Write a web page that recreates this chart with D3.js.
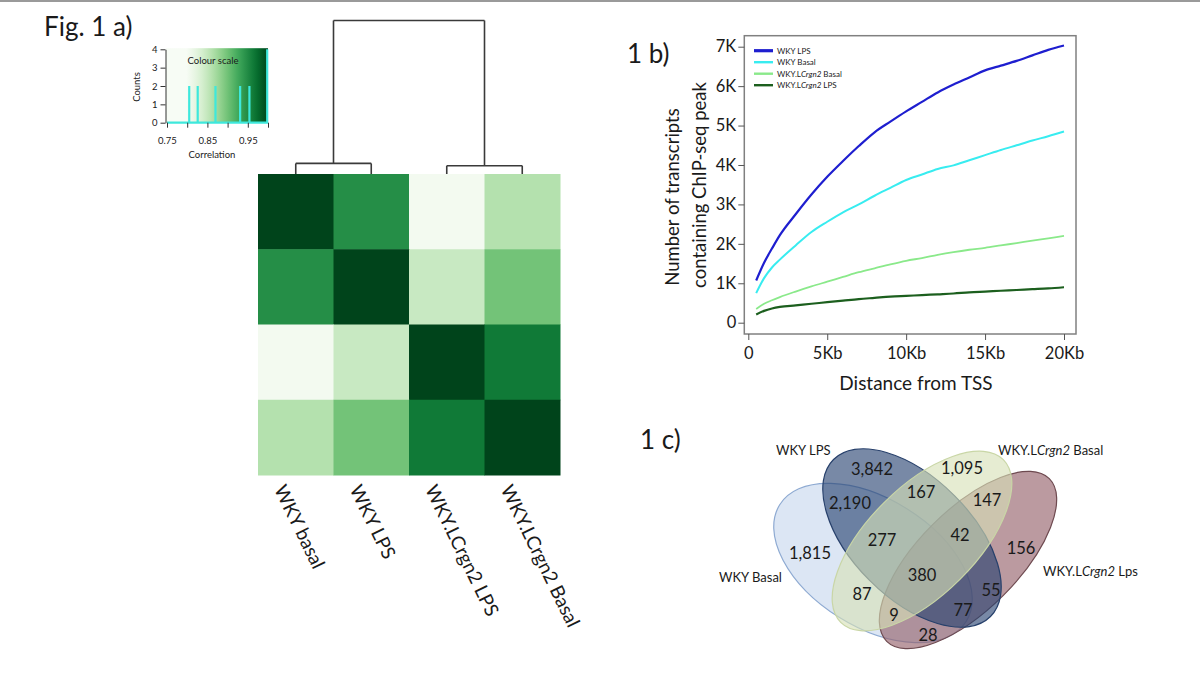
<!DOCTYPE html>
<html><head><meta charset="utf-8">
<script src="https://cdn.jsdelivr.net/npm/d3@7"></script>
<style>
body{margin:0;background:#fff}
svg{display:block}
text{font-family:Lato,"Open Sans",sans-serif;fill:#1a1a1a}
</style>
</head><body>
<svg id="c" width="1200" height="697"></svg>
<script>
// ---------------- DATA ----------------
// Fig 1a: correlation heatmap
const samples = ["WKY basal","WKY LPS","WKY.LCrgn2 LPS","WKY.LCrgn2 Basal"];
const corrBasal      = [1.000,0.948,0.806,0.862];
const corrLPS        = [0.948,1.000,0.848,0.900];
const corrLcLPS      = [0.806,0.848,1.000,0.964];
const corrLcBasal    = [0.862,0.900,0.964,1.000];
const dendroHeights  = {root:10, leftPair:0.69, rightPair:0.54};
// colour-scale histogram
const histCorr   = [0.805,0.826,0.870,0.931,0.954,0.998];
const histCounts = [2,2,2,2,2,4];
const histYTicks = [0,1,2,3,4];
const histXTicks = [0.75,0.80,0.85,0.90,0.95,1.00];
const histXLabelled = [0.75,0.85,0.95];

// Fig 1b: transcripts vs distance
const distanceKb = [0.5,1,1.5,2,3,4,5,6,7,8,9,10,11,12,13,14,15,16,17,18,19,20];
const seriesNames = ["WKY LPS","WKY Basal","WKY.LCrgn2 Basal","WKY.LCrgn2 LPS"];
const wkyLPS     = [1.07,1.52,1.88,2.22,2.75,3.25,3.70,4.10,4.48,4.83,5.10,5.36,5.60,5.84,6.04,6.22,6.40,6.52,6.64,6.78,6.92,7.03];
const wkyBasal   = [0.75,1.13,1.40,1.60,1.96,2.30,2.56,2.80,3.00,3.22,3.42,3.62,3.76,3.90,3.99,4.12,4.25,4.38,4.50,4.62,4.73,4.85];
const lcBasal    = [0.35,0.48,0.57,0.65,0.79,0.92,1.04,1.16,1.28,1.38,1.48,1.57,1.64,1.72,1.79,1.85,1.90,1.96,2.02,2.08,2.14,2.20];
const lcLPS      = [0.21,0.30,0.36,0.40,0.44,0.48,0.52,0.56,0.60,0.63,0.66,0.68,0.70,0.72,0.74,0.77,0.79,0.81,0.83,0.85,0.87,0.90];
const yTicksK = [0,1,2,3,4,5,6,7];
const yTickLabels = ["0","1K","2K","3K","4K","5K","6K","7K"];
const xTicksKb = [0,5,10,15,20];
const xTickLabels = ["0","5Kb","10Kb","15Kb","20Kb"];

// Fig 1c: Venn counts (A=WKY Basal, B=WKY LPS, C=WKY.LCrgn2 Basal, D=WKY.LCrgn2 Lps)
const vennRegionKeys   = ["A","B","C","D","AB","BC","CD","ABC","BCD","ABCD","AC","BD","ACD","ABD","AD"];
const vennRegionCounts = [1815,3842,1095,156,2190,167,147,277,42,380,87,55,9,77,28];

// ---------------- LAYOUT ----------------
const svg = d3.select("#c");
const colours = {line:["#1e1ecf","#38ecf0","#8ae98a","#1c5f1e"], lineW:[2.2,2,1.8,2.2]};

svg.append("line").attr("x1",0).attr("x2",1200).attr("y1",1).attr("y2",1)
  .attr("stroke","#9a9a9a").attr("stroke-width",2);

// panel titles
function panelTitle(x,y,t){svg.append("text").attr("x",x).attr("y",y).attr("font-size",26).text(t);}
panelTitle(44,36,"Fig. 1 a)");
panelTitle(627,63,"1 b)");
panelTitle(640,449,"1 c)");

// ---- heatmap ----
const matrix = [corrBasal,corrLPS,corrLcLPS,corrLcBasal];
const hx = d3.scaleBand().domain(samples).range([258,560]);
const hy = d3.scaleBand().domain(samples).range([174,475]);
const colour = d3.scaleSequential(d3.interpolateGreens).domain([0.8,1.0]).clamp(true);
const cells = [];
matrix.forEach((row,i)=>row.forEach((v,j)=>cells.push({r:samples[i],c:samples[j],v})));
svg.append("g").selectAll("rect").data(cells).join("rect")
  .attr("x",d=>hx(d.c)).attr("y",d=>hy(d.r))
  .attr("width",hx.bandwidth()+0.5).attr("height",hy.bandwidth()+0.5)
  .attr("fill",d=>colour(d.v));

svg.append("g").selectAll("text").data(samples).join("text")
  .attr("transform",d=>`translate(${hx(d)+hx.bandwidth()/2-22},${489}) rotate(64)`)
  .attr("font-size",19).text(d=>d);

// dendrogram
const tree = d3.hierarchy({h:dendroHeights.root,children:[
  {h:dendroHeights.leftPair,children:[{name:samples[0],h:0},{name:samples[1],h:0}]},
  {h:dendroHeights.rightPair,children:[{name:samples[2],h:0},{name:samples[3],h:0}]}]});
const dy = d3.scaleLinear().domain([0,dendroHeights.root]).range([174,20.5]);
tree.eachAfter(n=>{ n.px = n.children ? d3.mean(n.children,c=>c.px) : hx(n.data.name)+hx.bandwidth()/2; });
const dg = svg.append("g").attr("fill","none").attr("stroke","#3a3a3a").attr("stroke-width",1.6);
tree.each(n=>{
  if(!n.children) return;
  const y0 = dy(n.data.h);
  const xs = n.children.map(c=>c.px);
  n.children.forEach(c=>{
    dg.append("path").attr("d",`M${c.px},${dy(c.data.h)}V${y0}`);
  });
  dg.append("path").attr("d",`M${d3.min(xs)},${y0}H${d3.max(xs)}`);
});

// colour scale inset
const xH = d3.scaleLinear().domain([0.75,1.0]).range([167,268]);
const yH = d3.scaleLinear().domain([0,4]).range([122.7,49.3]);
const grad = svg.append("defs").append("linearGradient").attr("id","gr");
d3.range(0,1.0001,0.05).forEach(t=>{
  grad.append("stop").attr("offset",t).attr("stop-color",colour(0.75+0.25*t));
});
svg.append("rect").attr("x",xH(0.75)-1).attr("y",yH(4.06)).attr("width",xH(1)-xH(0.75)+1)
  .attr("height",yH(0)-yH(4.06)).attr("fill","url(#gr)");
svg.append("text").attr("x",213).attr("y",64).attr("text-anchor","middle").attr("font-size",9.5).text("Colour scale");
const hist = svg.append("g").attr("stroke","#3ee8dc").attr("stroke-width",2.2);
hist.selectAll("line").data(histCorr).join("line")
  .attr("x1",d=>xH(d)).attr("x2",d=>xH(d)).attr("y1",yH(0)).attr("y2",(d,i)=>yH(histCounts[i]));
hist.append("line").attr("x1",xH(0.75)).attr("x2",xH(1)).attr("y1",yH(0)).attr("y2",yH(0));
const ya = svg.append("g").attr("transform",`translate(${xH(0.75)-1.5},0)`)
  .call(d3.axisLeft(yH).tickValues(histYTicks).tickSize(5).tickSizeOuter(0).tickPadding(3).tickFormat(d3.format("d")));
ya.selectAll("text").attr("font-size",9.5).attr("font-family","Lato");
ya.selectAll("line,path").attr("stroke","#333");
const xa = svg.append("g").attr("transform",`translate(0,${yH(0)})`)
  .call(d3.axisBottom(xH).tickValues(histXTicks).tickSize(5).tickPadding(10)
    .tickFormat(d=>histXLabelled.includes(d)?d.toFixed(2):""));
xa.select(".domain").remove();
xa.selectAll("line").attr("stroke","#333");
xa.selectAll("text").attr("font-size",9.5).attr("font-family","Lato");
svg.append("text").attr("transform","translate(140,87) rotate(-90)").attr("text-anchor","middle")
  .attr("font-size",9.5).text("Counts");
svg.append("text").attr("x",212).attr("y",158).attr("text-anchor","middle").attr("font-size",9.5).text("Correlation");

// ---- line chart ----
const lx = d3.scaleLinear().domain([0,20]).range([748.3,1064]);
const ly = d3.scaleLinear().domain([0,7]).range([322.7,46.7]);
svg.append("rect").attr("x",744.3).attr("y",35.7).attr("width",1076-744.3).attr("height",334-35.7)
  .attr("fill","none").attr("stroke","#808080").attr("stroke-width",1.5);
const yAx = svg.append("g").attr("transform","translate(744.3,0)")
  .call(d3.axisLeft(ly).tickValues(yTicksK).tickSize(6).tickPadding(2).tickFormat((d,i)=>yTickLabels[i]));
yAx.select(".domain").remove();
const xAx = svg.append("g").attr("transform","translate(0,334)")
  .call(d3.axisBottom(lx).tickValues(xTicksKb).tickSize(6).tickPadding(7).tickFormat((d,i)=>xTickLabels[i]));
xAx.select(".domain").remove();
[yAx,xAx].forEach(a=>{a.selectAll("line").attr("stroke","#555");
  a.selectAll("text").attr("font-size",16.5).attr("font-family","Lato").attr("fill","#1a1a1a");});
svg.append("text").attr("x",916).attr("y",390).attr("text-anchor","middle").attr("font-size",19).text("Distance from TSS");
svg.append("text").attr("transform","translate(679,197) rotate(-90)").attr("text-anchor","middle")
  .attr("font-size",18.5).text("Number of transcripts");
svg.append("text").attr("transform","translate(706,185) rotate(-90)").attr("text-anchor","middle")
  .attr("font-size",18.5).text("containing ChIP-seq peak");

const allSeries = [wkyLPS,wkyBasal,lcBasal,lcLPS];
const line = d3.line().x((d,i)=>lx(distanceKb[i])).y(d=>ly(d)).curve(d3.curveMonotoneX);
svg.append("g").selectAll("path").data(allSeries.slice().reverse()).join("path")
  .attr("d",line).attr("fill","none")
  .attr("stroke",(d,i)=>colours.line[3-i]).attr("stroke-width",(d,i)=>colours.lineW[3-i]);

// legend
const lg = svg.append("g");
seriesNames.forEach((name,i)=>{
  const yy = 50.7 + i*11.5;
  lg.append("line").attr("x1",754).attr("x2",773).attr("y1",yy).attr("y2",yy)
    .attr("stroke",colours.line[i]).attr("stroke-width",i===0?3.2:2.4);
  const t = lg.append("text").attr("x",777).attr("y",yy+3).attr("font-size",8);
  const m = name.match(/^(WKY\.L)(Crgn2)(.*)$/);
  if(m){ t.append("tspan").text(m[1]); t.append("tspan").attr("font-style","italic").text(m[2]); t.append("tspan").text(m[3]); }
  else t.text(name);
});

// ---- Venn ----
const vx = d3.scaleLinear().domain([0,300]).range([770,1070]);
const vy = d3.scaleLinear().domain([0,220]).range([440,660]);
// ellipse geometry in venn space: cx, cy, a, b, rotation
const vennShapes = {
  A:{cx:103,cy:123,a:110,b:64,rot:32, fill:"#d6e2f2",op:0.85,stroke:"#8eaad2"},
  D:{cx:198,cy:120,a:115,b:50,rot:-45,fill:"#94616b",op:0.64,stroke:"#6e4a50"},
  B:{cx:142,cy:98, a:111,b:60,rot:45, fill:"#25406f",op:0.62,stroke:"#27406b"},
  C:{cx:152,cy:101,a:115,b:54,rot:-45,fill:"#d6e1b6",op:0.62,stroke:"#c9d6a6"}
};
const vg = svg.append("g");
["A","D","B","C"].forEach(k=>{
  const s = vennShapes[k];
  vg.append("ellipse")
    .attr("transform",`translate(${vx(s.cx)},${vy(s.cy)}) rotate(${s.rot})`)
    .attr("rx",vx(s.a)-vx(0)).attr("ry",vy(s.b)-vy(0))
    .attr("fill",s.fill).attr("fill-opacity",s.op)
    .attr("stroke",s.stroke).attr("stroke-width",1.2);
});
const vennLabelPos = {A:[40,113],B:[102,29],C:[192,28],D:[251,108],AB:[80,63],BC:[151,52],CD:[217,60],
  ABC:[112,100],BCD:[190,95],ABCD:[152,135],AC:[92,154],BD:[221,150],ACD:[124,175],ABD:[193,170],AD:[158,195]};
const fmt = d3.format(",");
vg.selectAll("text.n").data(vennRegionKeys).join("text").attr("class","n")
  .attr("x",k=>vx(vennLabelPos[k][0])).attr("y",k=>vy(vennLabelPos[k][1]))
  .attr("text-anchor","middle").attr("dominant-baseline","central").attr("font-size",16.5)
  .text((k,i)=>fmt(vennRegionCounts[i]));
function setLabel(x,y,parts){
  const t = vg.append("text").attr("x",vx(x)).attr("y",vy(y)).attr("font-size",13).attr("dominant-baseline","central");
  parts.forEach(p=>t.append("tspan").attr("font-style",p[1]?"italic":null).text(p[0]));
}
setLabel(6,10,[["WKY LPS"]]);
setLabel(-51,137,[["WKY Basal"]]);
setLabel(228,10,[["WKY.L"],["Crgn2",1],[" Basal"]]);
setLabel(273,131,[["WKY.L"],["Crgn2",1],[" Lps"]]);
</script>
</body></html>
